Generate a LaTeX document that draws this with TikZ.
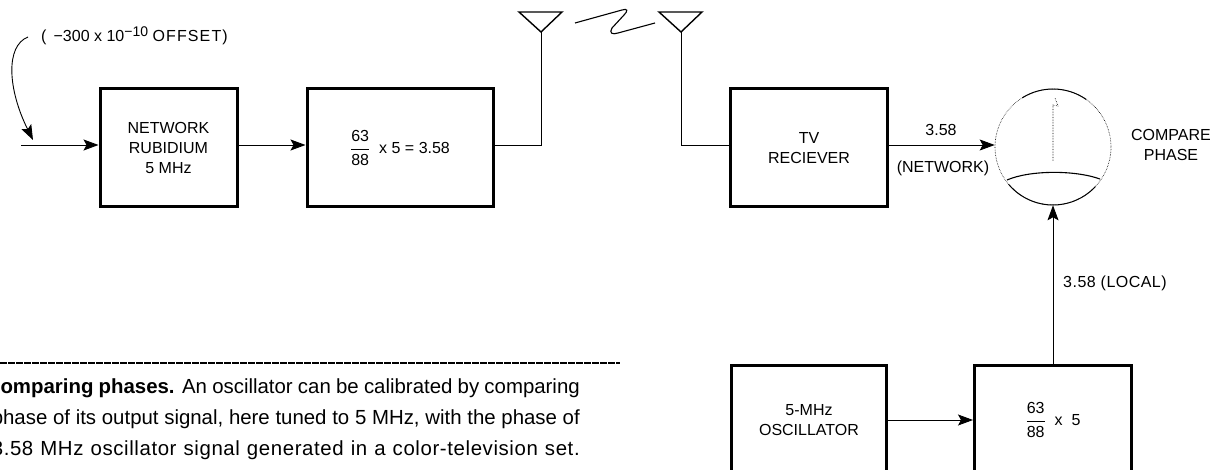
\documentclass[tikz,border=0pt]{standalone}
\usepackage{fontspec}
\setmainfont{Liberation Sans}
\usetikzlibrary{arrows.meta}
\newcommand{\labelfont}{\fontsize{16}{20}\selectfont}
\newcommand{\ratiolabel}{$\displaystyle\frac{\mbox{63}}{\mbox{88}}$}
\tikzset{
    blockbox/.style={draw, line width=3pt, minimum width=#1, inner sep=0pt, align=center, font=\labelfont},
    signal/.style={line width=0.9pt},
    flow/.style={signal, -{Stealth[length=15pt,width=11pt,inset=3pt]}},
    tag/.style={inner sep=0pt, align=center, font=\labelfont},
    captionline/.style={inner sep=0pt, anchor=base east, font=\fontsize{20.4}{20}\selectfont},
}
\begin{document}
\begin{tikzpicture}[x=1pt,y=-1pt]
    \useasboundingbox (0,0) rectangle (1212,470);
    \clip (0,0) rectangle (1212,470);

    % The blocks
    \node[blockbox=137pt, minimum height=118pt] (rubidium) at (168.5,148) {NETWORK\\RUBIDIUM\\5 MHz};
    \node[blockbox=186pt, minimum height=118pt] (mulnet) at (400,148) {\ratiolabel\ \ x 5 = 3.58};
    \node[blockbox=157pt, minimum height=118pt] (receiver) at (809,148) {TV\\RECIEVER};
    \node[blockbox=155pt, minimum height=110pt] (oscillator) at (809,420) {5-MHz\\OSCILLATOR};
    \node[blockbox=157pt, minimum height=110pt] (mullocal) at (1053,420) {\ratiolabel\ \ x \ 5};

    % The phase display
    \coordinate (scopecentre) at (1053,147);
    \node[draw, circle, densely dotted, line width=0.6pt, minimum size=116pt, inner sep=0pt] (scope) at (scopecentre) {};
    \draw[line width=1pt] (scopecentre) ++(-122:58) arc (-122:-55:58);
    \draw[line width=1pt] (scopecentre) ++(140:58) arc (140:43:58);
    \coordinate (traceleft) at (1007,180);
    \coordinate (traceright) at (1100,179);
    \coordinate (spiketop) at (1053,105);
    \coordinate (spikebase) at (1053,161);
    \coordinate (barbtip) at (1058,106);
    \coordinate (barbtop) at (1055,98);
    \draw[line width=1.1pt] (traceleft) .. controls (1030,170) and (1075,170) .. (traceright);
    \draw[densely dotted, line width=0.6pt] (spikebase) -- (spiketop) -- (barbtip) -- (barbtop);
    \node[tag] (compare) at (1171,145) {COMPARE\\PHASE};

    % The antennas
    \coordinate (antleftl) at (519,12);
    \coordinate (antleftr) at (562,12);
    \coordinate (antleftb) at (541,32);
    \coordinate (antrightl) at (659,12);
    \coordinate (antrightr) at (702,12);
    \coordinate (antrightb) at (681,32);
    \draw[line width=1.4pt] (antleftl) -- (antleftr) -- (antleftb) -- cycle;
    \draw[line width=1.4pt] (antrightl) -- (antrightr) -- (antrightb) -- cycle;
    \coordinate (waveleft) at (575,23);
    \coordinate (waveright) at (655,23);
    \draw[line width=1.1pt] (waveleft) -- (622,10) .. controls (628,8) and (628,11) .. (624,15) -- (612,28) .. controls (609,33) and (612,35) .. (618,33) -- (waveright);

    % The connectors
    \coordinate (inputend) at (21,145);
    \coordinate (offsetstart) at (28,37);
    \coordinate (offsetend) at (33,140);
    \draw[flow] (inputend) -- (rubidium.west |- inputend);
    \draw[flow] (rubidium.east |- inputend) -- (mulnet.west |- inputend);
    \draw[signal] (mulnet.east |- inputend) -| (antleftb);
    \draw[signal] (antrightb) |- (receiver.west |- inputend);
    \draw[flow] (receiver.east |- inputend) -- (scope.west |- inputend);
    \draw[flow] (oscillator.east) -- (mullocal.west);
    \draw[flow] (mullocal.north) -- (scope.south);
    \draw[flow] (offsetstart) .. controls (5,46) and (8,90) .. (offsetend);

    % The labels
    \node[tag, anchor=west] (offset) at (41,36) {( \,−300 x 10\raisebox{5pt}{\fontsize{14}{14}\selectfont −10} {\addfontfeature{LetterSpace=7}OFFSET)}};
    \node[tag] (networkfreq) at (941,130) {3.58};
    \node[tag] (networktag) at (943,168) {(NETWORK)};
    \node[tag, anchor=west] (localfreq) at (1063,283) {\addfontfeature{LetterSpace=3}3.58 (LOCAL)};

    % The caption
    \draw[line width=1.1pt, dash pattern=on 7pt off 1pt] (0,363) -- (620,363);
    \node[captionline] (captiona) at (580,393) {\makebox[594pt][s]{\textbf{Comparing phases.} An oscillator can be calibrated by comparing}};
    \node[captionline] (captionb) at (580,424) {\makebox[588pt][s]{phase of its output signal, here tuned to 5 MHz, with the phase of}};
    \node[captionline] (captionc) at (580,455) {\makebox[588pt][s]{\addfontfeature{LetterSpace=3}3.58 MHz oscillator signal generated in a color-television set.}};
\end{tikzpicture}
\end{document}
